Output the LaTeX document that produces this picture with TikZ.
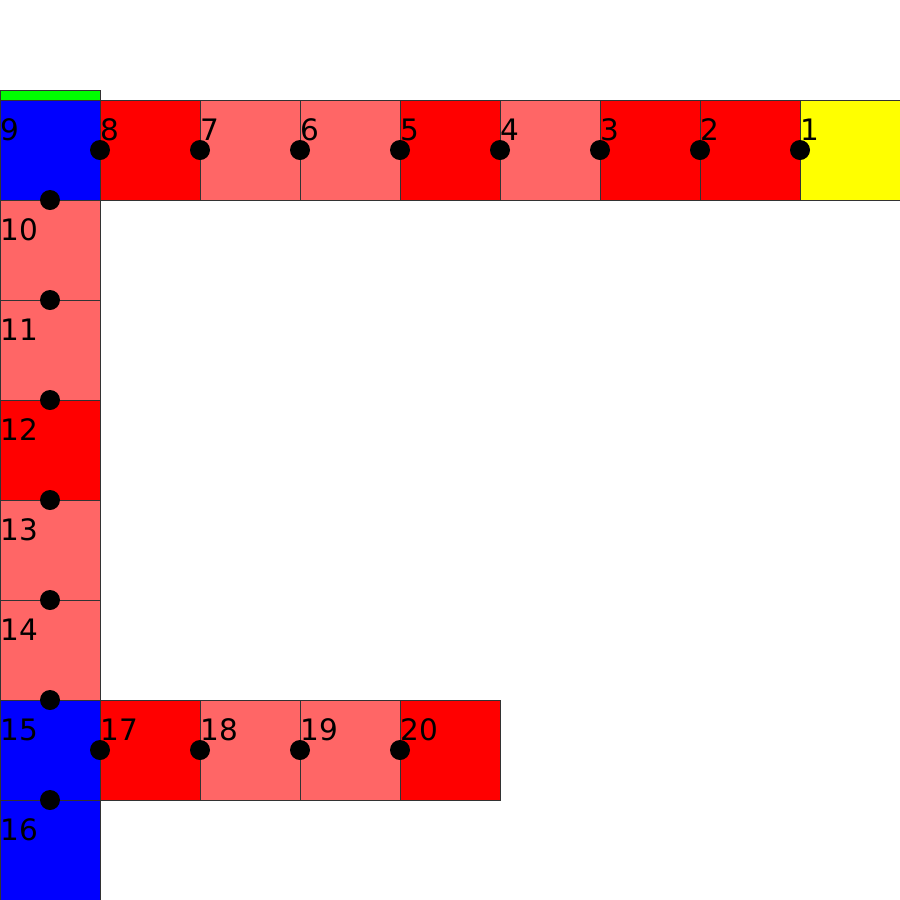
\documentclass[tikz,border=0pt]{standalone}
\usepackage{fontspec}
\setmainfont{DejaVu Sans}
\usepackage{xcolor}
\usepackage{tikz}
\usetikzlibrary{positioning}

\definecolor{tilered}{HTML}{FF0000}
\definecolor{tilepink}{HTML}{FF6666}
\definecolor{tileblue}{HTML}{0000FF}
\definecolor{tileyellow}{HTML}{FFFF00}
\definecolor{tilegreen}{HTML}{00FF00}

\begin{document}
\begin{tikzpicture}[
    x=1cm, y=-1cm,
    font=\fontsize{8.4}{10}\selectfont,
    cell/.style={draw=black!80, line width=0.25pt, minimum size=1cm,
                 inner sep=0pt, outer sep=0pt},
    redcell/.style={cell, fill=tilered},
    pinkcell/.style={cell, fill=tilepink},
    bluecell/.style={cell, fill=tileblue},
    yellowcell/.style={cell, fill=tileyellow},
    lbl/.style={anchor=base west, inner sep=0pt, yshift=1mm},
    dot/.style={circle, fill=black, minimum size=0.2cm, inner sep=0pt},
]
  \useasboundingbox (0,0) rectangle (9,9);
  % Top row
  \node[bluecell]   (c9) at (0.5,1.5) {};
  \node[redcell]    (c8) at (1.5,1.5) {};
  \node[pinkcell]   (c7) at (2.5,1.5) {};
  \node[pinkcell]   (c6) at (3.5,1.5) {};
  \node[redcell]    (c5) at (4.5,1.5) {};
  \node[pinkcell]   (c4) at (5.5,1.5) {};
  \node[redcell]    (c3) at (6.5,1.5) {};
  \node[redcell]    (c2) at (7.5,1.5) {};
  \node[yellowcell] (c1) at (8.5,1.5) {};
  % marker above 9
  \node[draw=black!80, line width=0.25pt, fill=tilegreen, minimum width=1cm,
        minimum height=0.1cm, inner sep=0pt, outer sep=0pt, anchor=south] (mark) at (c9.north) {};
  % Column
  \node[pinkcell] (c10) at (0.5,2.5) {};
  \node[pinkcell] (c11) at (0.5,3.5) {};
  \node[redcell]  (c12) at (0.5,4.5) {};
  \node[pinkcell] (c13) at (0.5,5.5) {};
  \node[pinkcell] (c14) at (0.5,6.5) {};
  \node[bluecell] (c15) at (0.5,7.5) {};
  \node[bluecell] (c16) at (0.5,8.5) {};
  % Bottom row
  \node[redcell]  (c17) at (1.5,7.5) {};
  \node[pinkcell] (c18) at (2.5,7.5) {};
  \node[pinkcell] (c19) at (3.5,7.5) {};
  \node[redcell]  (c20) at (4.5,7.5) {};
  % Numbers
  \node[lbl] (t1) at (c1.west) {1};
  \node[lbl] (t2) at (c2.west) {2};
  \node[lbl] (t3) at (c3.west) {3};
  \node[lbl] (t4) at (c4.west) {4};
  \node[lbl] (t5) at (c5.west) {5};
  \node[lbl] (t6) at (c6.west) {6};
  \node[lbl] (t7) at (c7.west) {7};
  \node[lbl] (t8) at (c8.west) {8};
  \node[lbl] (t9) at (c9.west) {9};
  \node[lbl] (t10) at (c10.west) {10};
  \node[lbl] (t11) at (c11.west) {11};
  \node[lbl] (t12) at (c12.west) {12};
  \node[lbl] (t13) at (c13.west) {13};
  \node[lbl] (t14) at (c14.west) {14};
  \node[lbl] (t15) at (c15.west) {15};
  \node[lbl] (t16) at (c16.west) {16};
  \node[lbl] (t17) at (c17.west) {17};
  \node[lbl] (t18) at (c18.west) {18};
  \node[lbl] (t19) at (c19.west) {19};
  \node[lbl] (t20) at (c20.west) {20};
  % Dots
  \node[dot] (d1) at (c1.west) {};
  \node[dot] (d2) at (c2.west) {};
  \node[dot] (d3) at (c3.west) {};
  \node[dot] (d4) at (c4.west) {};
  \node[dot] (d5) at (c5.west) {};
  \node[dot] (d6) at (c6.west) {};
  \node[dot] (d7) at (c7.west) {};
  \node[dot] (d8) at (c8.west) {};
  \node[dot] (d10) at (c10.north) {};
  \node[dot] (d11) at (c11.north) {};
  \node[dot] (d12) at (c12.north) {};
  \node[dot] (d13) at (c13.north) {};
  \node[dot] (d14) at (c14.north) {};
  \node[dot] (d15) at (c15.north) {};
  \node[dot] (d16) at (c16.north) {};
  \node[dot] (d17) at (c17.west) {};
  \node[dot] (d18) at (c18.west) {};
  \node[dot] (d19) at (c19.west) {};
  \node[dot] (d20) at (c20.west) {};
\end{tikzpicture}
\end{document}
